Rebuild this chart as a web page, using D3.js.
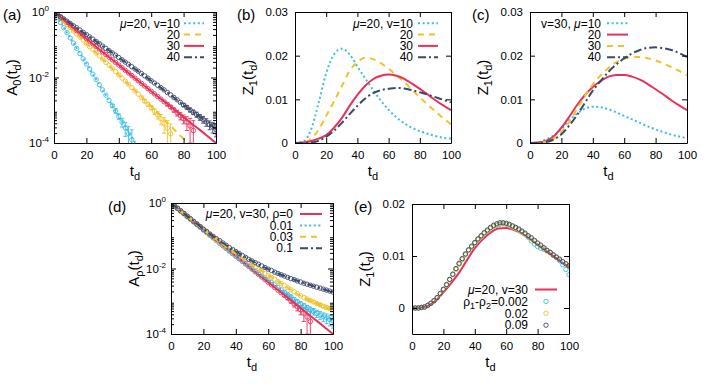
<!DOCTYPE html>
<html><head><meta charset="utf-8">
<script src="https://cdn.jsdelivr.net/npm/d3@7"></script>
<style>html,body{margin:0;padding:0;background:#fff;}svg{display:block}</style>
</head><body>
<svg id="chart" width="706" height="384"></svg>
<script>
// ---------- shared x samples / ticks ----------
const tTicks = [0,20,40,60,80,100];
const tLine = [0,5,10,15,20,25,30,35,40,45,50,55,60,65,70,75,80,85,90,95,100];
const tMark = [0,2,4,6,8,10,12,14,16,18,20,22,24,26,28,30,32,34,36,38,40,42,44,46,48,50,52,54,56,58,60,62,64,66,68,70,72,74,76,78,80,82,84,86,88,90,92,94,96,98,100];
const logTicks = [1e-4,1e-2,1];
const zTicksBC = [0,0.01,0.02,0.03];
const zTicksE = [0,0.01,0.02];

// ---------- (a) A0(td), log10 values, mu=20 ----------
const logA0_v10 = [0,-0.39,-0.79,-1.18,-1.58,-1.98,-2.38,-2.78,-3.18,-3.58,-3.98,-4.38];
const logA0_v20 = [0,-0.24,-0.48,-0.72,-0.96,-1.2,-1.44,-1.68,-1.92,-2.16,-2.4,-2.64,-2.88,-3.13,-3.38,-3.63,-3.88,-4.13];
const logA0_v30 = [0,-0.2,-0.41,-0.61,-0.82,-1.02,-1.22,-1.42,-1.62,-1.82,-2.02,-2.22,-2.42,-2.62,-2.81,-3.01,-3.21,-3.41,-3.6,-3.8,-4.0];
const logA0_v40 = [0,-0.17,-0.34,-0.52,-0.69,-0.86,-1.04,-1.21,-1.39,-1.56,-1.74,-1.92,-2.1,-2.28,-2.46,-2.65,-2.84,-3.02,-3.2,-3.39,-3.58];
// simulation points (every 2 time units)
const simA0_v10 = [0,-0.16,-0.32,-0.48,-0.63,-0.79,-0.95,-1.11,-1.27,-1.43,-1.59,-1.74,-1.9,-2.06,-2.22,-2.38,-2.54,-2.7,-2.86,-3.02,-3.19,-3.36,-3.54,-3.72,-3.9];
const simA0_v20 = [0,-0.1,-0.19,-0.29,-0.38,-0.48,-0.58,-0.67,-0.77,-0.86,-0.96,-1.06,-1.15,-1.25,-1.34,-1.44,-1.54,-1.63,-1.73,-1.82,-1.92,-2.02,-2.11,-2.21,-2.31,-2.41,-2.51,-2.61,-2.72,-2.82,-2.92,-3.03,-3.14,-3.26,-3.4,-3.55,-3.72];
const simA0_v30 = [0,-0.08,-0.16,-0.24,-0.32,-0.41,-0.49,-0.57,-0.65,-0.73,-0.81,-0.89,-0.97,-1.05,-1.13,-1.22,-1.3,-1.38,-1.46,-1.54,-1.62,-1.7,-1.78,-1.86,-1.94,-2.02,-2.1,-2.18,-2.26,-2.34,-2.42,-2.5,-2.58,-2.66,-2.74,-2.82,-2.9,-2.99,-3.08,-3.17,-3.26,-3.36,-3.48,-3.62];
const simA0_v40 = [0,-0.07,-0.14,-0.21,-0.28,-0.35,-0.42,-0.48,-0.55,-0.62,-0.69,-0.76,-0.83,-0.9,-0.97,-1.04,-1.11,-1.18,-1.25,-1.32,-1.39,-1.46,-1.53,-1.6,-1.67,-1.74,-1.81,-1.88,-1.95,-2.02,-2.1,-2.17,-2.24,-2.31,-2.38,-2.46,-2.53,-2.61,-2.68,-2.76,-2.84,-2.91,-2.99,-3.06,-3.13,-3.21,-3.28,-3.36,-3.44,-3.51,-3.59];
// relative error bars [t, rel]
const errA0_v10 = [[36,0.1],[38,0.15],[40,0.2],[42,0.3],[44,0.45],[46,0.7],[48,1.0]];
const errA0_v20 = [[56,0.1],[58,0.12],[60,0.15],[62,0.2],[64,0.25],[66,0.35],[68,0.5],[70,0.7],[72,1.0]];
const errA0_v30 = [[70,0.1],[72,0.12],[74,0.15],[76,0.2],[78,0.25],[80,0.3],[82,0.45],[84,0.7],[86,1.0]];
const errA0_v40 = [[80,0.1],[82,0.12],[84,0.14],[86,0.16],[88,0.18],[90,0.2],[92,0.23],[94,0.26],[96,0.3],[98,0.35],[100,0.4]];

// ---------- (b) Z1(td), mu=20 ----------
const zB_v10 = [0,0.0003,0.0028,0.009,0.016,0.0203,0.0216,0.0203,0.0175,0.0148,0.0122,0.0097,0.0076,0.0059,0.0045,0.0035,0.0027,0.0021,0.0016,0.0012,0.001];
const zB_v20 = [0,0.0001,0.0008,0.003,0.0062,0.0095,0.013,0.0165,0.0185,0.0195,0.0192,0.0183,0.017,0.0155,0.014,0.0122,0.0105,0.0088,0.0072,0.0057,0.0043];
const zB_v30 = [0,0.0001,0.0004,0.001,0.0018,0.0035,0.0057,0.0085,0.011,0.0131,0.0146,0.0154,0.0157,0.0154,0.0147,0.0136,0.0124,0.0111,0.0098,0.0086,0.0075];
const zB_v40 = [0,0,0.0001,0.0005,0.0014,0.0028,0.0046,0.0066,0.0085,0.0102,0.0114,0.0121,0.0124,0.0126,0.0125,0.0121,0.0116,0.0111,0.0105,0.0099,0.0093];

// ---------- (c) Z1(td), v=30 ----------
const zC_mu10 = [0,0.0001,0.0008,0.0017,0.0032,0.0052,0.0067,0.0079,0.0083,0.0082,0.0077,0.007,0.0062,0.0054,0.0046,0.0038,0.0031,0.0025,0.0019,0.0015,0.0011];
const zC_mu20 = [0,0.0001,0.0005,0.0015,0.0035,0.006,0.0087,0.011,0.0128,0.0142,0.0152,0.0156,0.0156,0.0152,0.0145,0.0135,0.0123,0.0111,0.0098,0.0086,0.0075];
const zC_mu30 = [0,0,0.0003,0.001,0.0025,0.0048,0.0078,0.0108,0.0134,0.0155,0.0172,0.0185,0.0193,0.0197,0.0197,0.0194,0.0189,0.0182,0.0174,0.0165,0.0155];
const zC_mu40 = [0,0,0.0002,0.0008,0.002,0.004,0.0064,0.0092,0.012,0.0142,0.0163,0.018,0.0194,0.0205,0.0213,0.0218,0.0219,0.0217,0.0213,0.0206,0.0197];

// ---------- (d) A_rho(td), log10 values, mu=20, v=30 ----------
const logArho_0 = logA0_v30;
const logArho_001 = [0,-0.21,-0.42,-0.62,-0.83,-1.03,-1.23,-1.43,-1.62,-1.81,-2.0,-2.18,-2.36,-2.54,-2.72,-2.9,-3.08,-3.23,-3.37,-3.49,-3.6];
const logArho_003 = [0,-0.21,-0.41,-0.61,-0.81,-1.0,-1.19,-1.37,-1.55,-1.72,-1.88,-2.04,-2.2,-2.36,-2.52,-2.68,-2.84,-2.97,-3.08,-3.18,-3.26];
const logArho_01 = [0,-0.2,-0.4,-0.59,-0.8,-0.98,-1.15,-1.32,-1.48,-1.63,-1.77,-1.9,-2.02,-2.13,-2.23,-2.32,-2.41,-2.49,-2.57,-2.65,-2.72];
const simArho_0 = simA0_v30;
const simArho_001 = [0,-0.08,-0.17,-0.25,-0.33,-0.42,-0.5,-0.58,-0.66,-0.74,-0.83,-0.91,-0.99,-1.07,-1.15,-1.23,-1.31,-1.39,-1.47,-1.55,-1.62,-1.7,-1.78,-1.85,-1.93,-2.0,-2.07,-2.14,-2.22,-2.29,-2.36,-2.43,-2.5,-2.58,-2.65,-2.72,-2.79,-2.86,-2.94,-3.01,-3.08,-3.14,-3.2,-3.26,-3.31,-3.37,-3.42,-3.47,-3.51,-3.56,-3.6];
const simArho_003 = [0,-0.08,-0.16,-0.25,-0.33,-0.41,-0.49,-0.57,-0.65,-0.73,-0.81,-0.89,-0.97,-1.05,-1.13,-1.21,-1.28,-1.36,-1.43,-1.51,-1.58,-1.65,-1.72,-1.79,-1.86,-1.92,-1.98,-2.04,-2.1,-2.15,-2.21,-2.27,-2.33,-2.4,-2.46,-2.52,-2.58,-2.65,-2.71,-2.77,-2.83,-2.88,-2.93,-2.98,-3.02,-3.07,-3.11,-3.15,-3.19,-3.22,-3.25];
const simArho_01 = [0,-0.08,-0.16,-0.24,-0.32,-0.4,-0.48,-0.56,-0.64,-0.72,-0.8,-0.87,-0.95,-1.02,-1.09,-1.15,-1.22,-1.29,-1.36,-1.42,-1.48,-1.54,-1.6,-1.66,-1.72,-1.77,-1.82,-1.87,-1.92,-1.97,-2.02,-2.06,-2.11,-2.15,-2.19,-2.23,-2.27,-2.31,-2.34,-2.38,-2.41,-2.45,-2.48,-2.51,-2.54,-2.57,-2.6,-2.63,-2.66,-2.69,-2.72];
const errArho_0 = errA0_v30;
const errArho_001 = [[70,0.08],[72,0.09],[74,0.1],[76,0.12],[78,0.13],[80,0.15],[82,0.17],[84,0.19],[86,0.21],[88,0.23],[90,0.25],[92,0.28],[94,0.3],[96,0.33],[98,0.36],[100,0.4]];
const errArho_003 = [[84,0.06],[86,0.07],[88,0.08],[90,0.09],[92,0.1],[94,0.11],[96,0.12],[98,0.13],[100,0.14]];

// ---------- (e) Z1(td), mu=20, v=30 ----------
const zE_line = [0,0.00005,0.0004,0.0014,0.003,0.0048,0.0068,0.0092,0.0115,0.0132,0.0145,0.0153,0.0154,0.015,0.0143,0.0133,0.0122,0.0111,0.01,0.0089,0.0079];
const zE_d0002 = [0,0,0,0.0001,0.0002,0.0005,0.0009,0.0014,0.002,0.0028,0.0036,0.0045,0.0055,0.0065,0.0075,0.0085,0.0094,0.0103,0.0111,0.0118,0.0125,0.0132,0.0138,0.0143,0.0148,0.0153,0.0157,0.0159,0.0161,0.0162,0.0161,0.0159,0.0157,0.0154,0.015,0.0146,0.0142,0.0136,0.0129,0.0123,0.0118,0.0115,0.0113,0.011,0.0107,0.0102,0.0097,0.0091,0.0083,0.0074,0.0064];
const zE_d002 = [0,0,0,0.0001,0.0002,0.0005,0.0009,0.0013,0.0019,0.0027,0.0035,0.0044,0.0054,0.0064,0.0074,0.0084,0.0093,0.0102,0.011,0.0117,0.0124,0.0131,0.0137,0.0143,0.0148,0.0153,0.0157,0.016,0.0162,0.0162,0.0161,0.0159,0.0156,0.0153,0.015,0.0146,0.0142,0.0138,0.0133,0.0128,0.0124,0.0119,0.0115,0.011,0.0106,0.0101,0.0097,0.0093,0.0089,0.0085,0.008];
const zE_d009 = [0,0,0,0.0001,0.0002,0.0005,0.0009,0.0014,0.002,0.0028,0.0036,0.0045,0.0055,0.0065,0.0076,0.0086,0.0095,0.0104,0.0112,0.0119,0.0126,0.0133,0.0139,0.0145,0.015,0.0155,0.0159,0.0162,0.0164,0.0164,0.0163,0.0161,0.0158,0.0155,0.0152,0.0148,0.0144,0.0139,0.0135,0.013,0.0125,0.0121,0.0116,0.0111,0.0107,0.0102,0.0098,0.0094,0.0089,0.0085,0.0081];

// ================= drawing =================
const svg = d3.select("#chart");
const FONT = '"Liberation Sans", Arial, Helvetica, sans-serif';
const C = {cyan:"#3dbde6", yellow:"#f0c22a", red:"#e6325b", navy:"#3b4a6a"};
const STY = {
  cyan:{color:C.cyan, dash:"2,2.6"},
  yellow:{color:C.yellow, dash:"6,5"},
  red:{color:C.red, dash:null},
  navy:{color:C.navy, dash:"8,3,2,3"}
};
const pairs = (ts, vals, isLog) => vals.map((v,i)=>[ts[i], isLog ? Math.pow(10,v) : v]);

function rich(t, parts, small){
  let shift = 0;
  parts.forEach(([s,k])=>{
    const ts = t.append("tspan").text(s);
    const target = k==="sub" ? small.sub : (k==="sup" ? -small.sup : 0);
    if (target-shift !== 0) ts.attr("dy", target-shift);
    shift = target;
    if (k==="sub"||k==="sup") ts.attr("font-size", small.fs);
    if (k==="it") ts.attr("font-style","italic");
  });
}

let clipN = 0;
function panel(p){
  const x = d3.scaleLinear().domain([0,100]).range([p.x0,p.x1]);
  const y = (p.log ? d3.scaleLog() : d3.scaleLinear()).domain(p.yDomain).range([p.y1,p.y0]);
  const id = "clip"+(clipN++);
  svg.append("clipPath").attr("id",id).append("rect")
    .attr("x",p.x0).attr("y",p.y0).attr("width",p.x1-p.x0).attr("height",p.y1-p.y0);
  const plot = svg.append("g").attr("clip-path",`url(#${id})`);
  const ax = svg.append("g");
  ax.append("g").attr("transform",`translate(0,${p.y1})`)
    .call(d3.axisBottom(x).tickValues(tTicks).tickSize(-5).tickSizeOuter(0).tickPadding(8));
  ax.append("g").attr("transform",`translate(0,${p.y0})`)
    .call(d3.axisTop(x).tickValues(tTicks).tickSize(-5).tickSizeOuter(0).tickFormat(""));
  const fmt = p.log ? (()=>"10") : (v => v===0 ? "0" : String(v));
  const ly = ax.append("g").attr("transform",`translate(${p.x0},0)`)
    .call(d3.axisLeft(y).tickValues(p.yTicks).tickSize(-5).tickSizeOuter(0).tickPadding(p.log?5:7).tickFormat(fmt));
  ax.append("g").attr("transform",`translate(${p.x1},0)`)
    .call(d3.axisRight(y).tickValues(p.yTicks).tickSize(-5).tickSizeOuter(0).tickFormat(""));
  if (p.log){
    const minors = [];
    [-4,-3,-2,-1].forEach(e=>{ for(let k=2;k<=9;k++) minors.push(k*Math.pow(10,e)); });
    ax.append("g").attr("transform",`translate(${p.x0},0)`)
      .call(d3.axisLeft(y).tickValues(minors).tickSize(-3).tickFormat("")).select(".domain").remove();
    ax.append("g").attr("transform",`translate(${p.x1},0)`)
      .call(d3.axisRight(y).tickValues(minors).tickSize(-3).tickFormat("")).select(".domain").remove();
    ly.selectAll(".tick text").each(function(d){
      d3.select(this).append("tspan").attr("dy",-5).attr("font-size",8).text(String(Math.round(Math.log10(d))));
    });
  }
  ax.selectAll(".domain").attr("stroke","#000");
  ax.selectAll(".tick line").attr("stroke","#000");
  ax.selectAll("text").attr("font-size",11.5).attr("font-family",FONT).attr("fill","#000");
  ly.selectAll(".tick text tspan").attr("font-size",8);
  // axis titles
  const xt = svg.append("text").attr("x",(p.x0+p.x1)/2).attr("y",p.y1+33)
    .attr("text-anchor","middle").attr("font-family",FONT).attr("font-size",15);
  rich(xt, [["t",""],["d","sub"]], {sub:4, sup:0, fs:11});
  const yt = svg.append("text").attr("transform",`translate(${p.ytX},${(p.y0+p.y1)/2}) rotate(-90)`)
    .attr("text-anchor","middle").attr("font-family",FONT).attr("font-size",15);
  rich(yt, p.ytitle, {sub:4, sup:0, fs:11});
  svg.append("text").attr("x",p.lx).attr("y",p.ly).attr("font-family",FONT).attr("font-size",15).text(p.label);
  return {x,y,plot,ax,p};
}

function drawLine(P, data, sty){
  P.plot.append("path").datum(data).attr("fill","none")
    .attr("stroke",sty.color).attr("stroke-width",2)
    .attr("stroke-dasharray",sty.dash)
    .attr("d", d3.line().x(d=>P.x(d[0])).y(d=>P.y(d[1])).curve(d3.curveMonotoneX));
}
function drawMarks(P, data, color){
  P.plot.append("g").selectAll("circle").data(data).join("circle")
    .attr("cx",d=>P.x(d[0])).attr("cy",d=>P.y(d[1])).attr("r",2.2)
    .attr("fill","none").attr("stroke",color).attr("stroke-width",0.9);
}
function drawErr(P, data, errs, color){
  const m = new Map(data.map(d=>[d[0],d[1]]));
  const g = P.plot.append("g").attr("stroke",color).attr("stroke-width",0.9);
  errs.forEach(([t,rel])=>{
    const v = m.get(t); if (v===undefined) return;
    const yh = P.y(v*(1+rel));
    const lo = v*(1-rel);
    const yl = lo>0 ? P.y(lo) : P.p.y1+10;
    const xx = P.x(t);
    g.append("line").attr("x1",xx).attr("x2",xx).attr("y1",yh).attr("y2",yl);
    g.append("line").attr("x1",xx-2).attr("x2",xx+2).attr("y1",yh).attr("y2",yh);
    g.append("line").attr("x1",xx-2).attr("x2",xx+2).attr("y1",yl).attr("y2",yl);
  });
}
function legend(items, cfg){
  items.forEach((it,i)=>{
    const yy = cfg.y0 + i*cfg.dy;
    const t = svg.append("text").attr("x",cfg.tx).attr("y",yy+4.2)
      .attr("text-anchor","end").attr("font-family",FONT).attr("font-size",12).attr("fill","#000");
    rich(t, it.parts, {sub:3, sup:0, fs:9});
    if (it.sty){
      svg.append("line").attr("x1",cfg.s0).attr("x2",cfg.s1).attr("y1",yy).attr("y2",yy)
        .attr("stroke",it.sty.color).attr("stroke-width",2).attr("stroke-dasharray",it.sty.dash);
    }
    if (it.mark){
      svg.append("circle").attr("cx",(cfg.s0+cfg.s1)/2).attr("cy",yy).attr("r",2.2)
        .attr("fill","none").attr("stroke",it.mark).attr("stroke-width",0.9);
    }
  });
}

// ----- panel (a)
const PA = panel({x0:54,x1:216,y0:12,y1:143,log:true,yDomain:[1e-4,1],yTicks:logTicks,
  ytX:17, ytitle:[["A",""],["0","sub"],["(t",""],["d","sub"],[")",""]], label:"(a)", lx:3, ly:20});
[[simA0_v10,errA0_v10,C.cyan],[simA0_v20,errA0_v20,C.yellow],[simA0_v30,errA0_v30,C.red],[simA0_v40,errA0_v40,C.navy]]
  .forEach(([s,e,c])=>{ const d=pairs(tMark,s,true); drawErr(PA,d,e,c); drawMarks(PA,d,c); });
drawLine(PA, pairs(tLine,logA0_v10,true), STY.cyan);
drawLine(PA, pairs(tLine,logA0_v20,true), STY.yellow);
drawLine(PA, pairs(tLine,logA0_v30,true), STY.red);
drawLine(PA, pairs(tLine,logA0_v40,true), STY.navy);
legend([
  {parts:[["μ","it"],["=20, v=10",""]], sty:STY.cyan},
  {parts:[["20",""]], sty:STY.yellow},
  {parts:[["30",""]], sty:STY.red},
  {parts:[["40",""]], sty:STY.navy}
], {tx:180, s0:184, s1:204, y0:23.3, dy:11.3});

// ----- panel (b)
const PB = panel({x0:295,x1:451,y0:12,y1:143,log:false,yDomain:[0,0.03],yTicks:zTicksBC,
  ytX:253, ytitle:[["Z",""],["1","sub"],["(t",""],["d","sub"],[")",""]], label:"(b)", lx:237, ly:20});
drawLine(PB, pairs(tLine,zB_v10), STY.cyan);
drawLine(PB, pairs(tLine,zB_v20), STY.yellow);
drawLine(PB, pairs(tLine,zB_v30), STY.red);
drawLine(PB, pairs(tLine,zB_v40), STY.navy);
legend([
  {parts:[["μ","it"],["=20, v=10",""]], sty:STY.cyan},
  {parts:[["20",""]], sty:STY.yellow},
  {parts:[["30",""]], sty:STY.red},
  {parts:[["40",""]], sty:STY.navy}
], {tx:413, s0:418, s1:438, y0:23.3, dy:11.3});

// ----- panel (c)
const PC = panel({x0:530,x1:687,y0:12,y1:143,log:false,yDomain:[0,0.03],yTicks:zTicksBC,
  ytX:488, ytitle:[["Z",""],["1","sub"],["(t",""],["d","sub"],[")",""]], label:"(c)", lx:472, ly:20});
drawLine(PC, pairs(tLine,zC_mu10), STY.cyan);
drawLine(PC, pairs(tLine,zC_mu20), STY.red);
drawLine(PC, pairs(tLine,zC_mu30), STY.yellow);
drawLine(PC, pairs(tLine,zC_mu40), STY.navy);
legend([
  {parts:[["v=30, ",""],["μ","it"],["=10",""]], sty:STY.cyan},
  {parts:[["20",""]], sty:STY.red},
  {parts:[["30",""]], sty:STY.yellow},
  {parts:[["40",""]], sty:STY.navy}
], {tx:601, s0:607, s1:628, y0:23.3, dy:11.3});

// ----- panel (d)
const PD = panel({x0:171,x1:333,y0:203,y1:334,log:true,yDomain:[1e-4,1],yTicks:logTicks,
  ytX:139, ytitle:[["A",""],["ρ","sub"],["(t",""],["d","sub"],[")",""]], label:"(d)", lx:108, ly:212});
[[simArho_0,errArho_0,C.red],[simArho_001,errArho_001,C.cyan],[simArho_003,errArho_003,C.yellow],[simArho_01,[],C.navy]]
  .forEach(([s,e,c])=>{ const d=pairs(tMark,s,true); drawErr(PD,d,e,c); drawMarks(PD,d,c); });
drawLine(PD, pairs(tLine,logArho_0,true), STY.red);
drawLine(PD, pairs(tLine,logArho_001,true), STY.cyan);
drawLine(PD, pairs(tLine,logArho_003,true), STY.yellow);
drawLine(PD, pairs(tLine,logArho_01,true), STY.navy);
legend([
  {parts:[["μ","it"],["=20, v=30, ρ=0",""]], sty:STY.red},
  {parts:[["0.01",""]], sty:STY.cyan},
  {parts:[["0.03",""]], sty:STY.yellow},
  {parts:[["0.1",""]], sty:STY.navy}
], {tx:293, s0:300, s1:322, y0:214, dy:11.4});

// ----- panel (e)
const PE = panel({x0:412,x1:569,y0:204,y1:334,log:false,yDomain:[-0.005,0.02],yTicks:zTicksE,
  ytX:370, ytitle:[["Z",""],["1","sub"],["(t",""],["d","sub"],[")",""]], label:"(e)", lx:354, ly:212});
drawLine(PE, pairs(tLine,zE_line), STY.red);
drawMarks(PE, pairs(tMark,zE_d0002), C.cyan);
drawMarks(PE, pairs(tMark,zE_d002), C.yellow);
drawMarks(PE, pairs(tMark,zE_d009), C.navy);
legend([
  {parts:[["μ","it"],["=20, v=30",""]], sty:STY.red},
  {parts:[["ρ",""],["1","sub"],["-ρ",""],["2","sub"],["=0.002",""]], mark:C.cyan},
  {parts:[["0.02",""]], mark:C.yellow},
  {parts:[["0.09",""]], mark:C.navy}
], {tx:528, s0:535, s1:557, y0:289.5, dy:11.9});
</script>
</body></html>
